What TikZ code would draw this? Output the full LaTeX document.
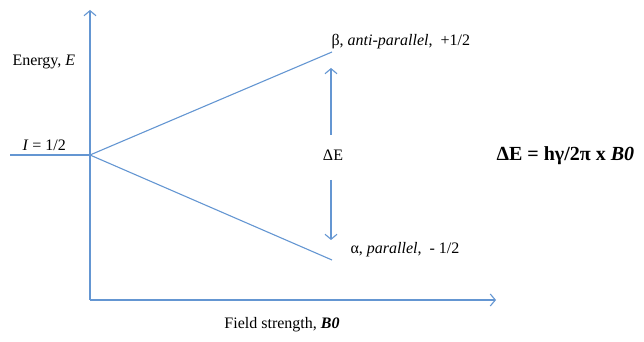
\documentclass[tikz,border=0pt]{standalone}
\usepackage{fontspec}
\setmainfont{Liberation Serif}
\usetikzlibrary{arrows.meta}
\definecolor{lineblue}{RGB}{100,150,210}
\begin{document}
\begin{tikzpicture}[x=1pt,y=1pt, every node/.style={font=\fontsize{16}{18}\selectfont},
    axis/.style={lineblue, line width=1.1pt},
    >={Straight Barb[length=5pt,width=12pt]}]
        \useasboundingbox (0,0) rectangle (644,342);

        \coordinate (O) at (90,187);
        \coordinate (ybot) at (90,42);
        \coordinate (ytop) at (90,332);
        \coordinate (xtip) at (496,42);
        \coordinate (left) at (10,187);
        \coordinate (up) at (332,290);
        \coordinate (down) at (332,82);

        % axes
        \draw[axis, ->] (ybot) -- (ytop);
        \draw[axis, ->] (ybot) -- (xtip);
        \draw[axis] (left) -- (O);

        % splitting
        \draw[axis] (O) -- (up);
        \draw[axis] (O) -- (down);

        \node (dE) at (333,187) {ΔE};
        \coordinate (dEtop) at (331,274);
        \coordinate (dEbot) at (331,102);
        \draw[axis, ->] (331,207) coordinate (a1) (a1) -- (dEtop);
        \draw[axis, ->] (331,162) coordinate (a2) (a2) -- (dEbot);

        % labels
        \node[anchor=west] (energy) at (9,280) {Energy, \textit{E}};
        \node[anchor=west] (spin) at (19,197) {\textit{I} = 1/2};
        \node (field) at (282,17) {Field strength, \textit{\textbf{B0}}};
        \node[anchor=west] (beta) at (328,300) {β, \textit{anti-parallel},\ \ +1/2};
        \node[anchor=west] (alpha) at (347,92) {α, \textit{parallel},\ \ - 1/2};
        \node[anchor=west, font=\fontsize{20}{22}\selectfont\bfseries] (eqn) at (493,186)
            {ΔE = hγ/2π x \textit{B0}};
    \end{tikzpicture}
\end{document}
